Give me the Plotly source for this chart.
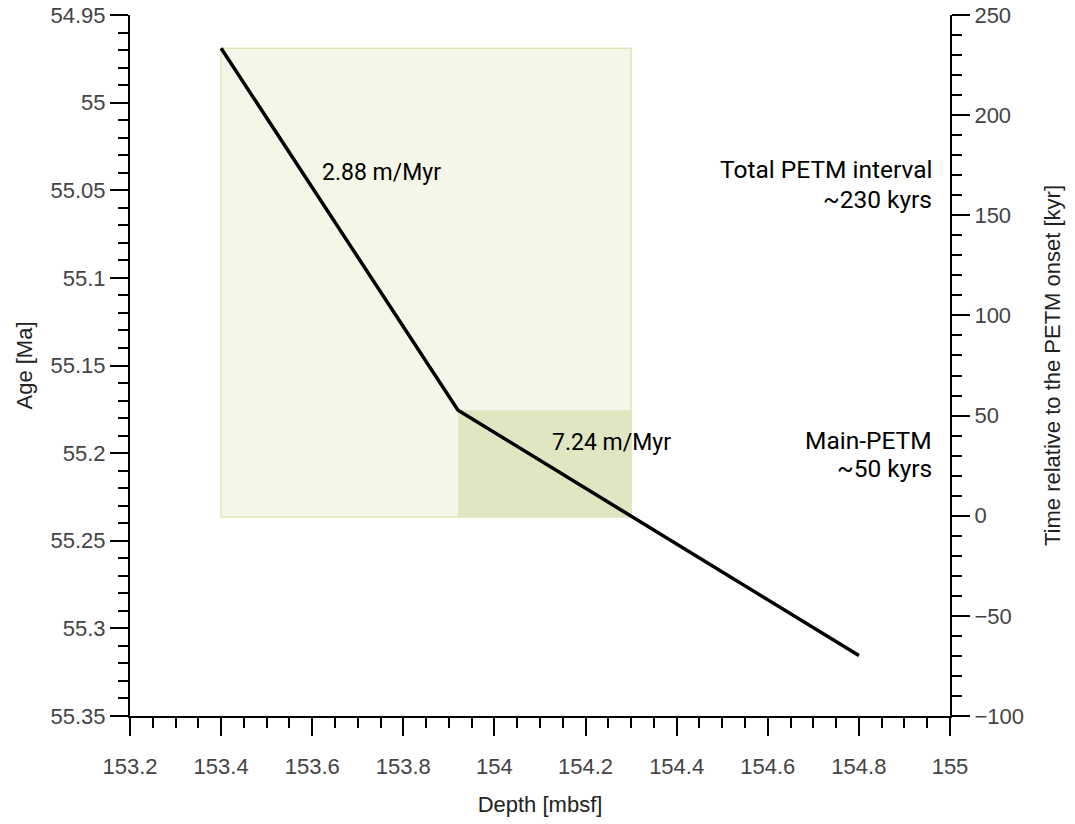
import plotly.graph_objects as go

# Data
depth = [153.4, 153.92, 154.8]            # m
age = [54.969, 55.1755, 55.3155]          # Ma
total_rect_depth = [153.4, 154.3]
total_rect_age = [54.969, 55.2365]
main_rect_depth = [153.92, 154.3]
main_rect_age = [55.1755, 55.2365]
rate_labels = ["2.88 m/Myr", "7.24 m/Myr"]
rate_label_depth = [153.753, 154.256]
rate_label_age = [55.040, 55.1937]
interval_labels = ["Total PETM interval", "~230 kyrs", "Main-PETM", "~50 kyrs"]
interval_label_kyr = [173.1, 158.1, 37.8, 23.8]
x_ticks = [153.2, 153.4, 153.6, 153.8, 154.0, 154.2, 154.4, 154.6, 154.8, 155.0]
x_ticktext = ["153.2", "153.4", "153.6", "153.8", "154", "154.2", "154.4", "154.6", "154.8", "155"]
y_ticks = [54.95, 55.0, 55.05, 55.1, 55.15, 55.2, 55.25, 55.3, 55.35]
y_ticktext = ["54.95", "55", "55.05", "55.1", "55.15", "55.2", "55.25", "55.3", "55.35"]
y2_ticks = [-100, -50, 0, 50, 100, 150, 200, 250]

AFONT = "Roboto"
TFONT = "Liberation Sans"
TICKC = "#444444"

fig = go.Figure()

fig.add_shape(type="rect", xref="x", yref="y",
              x0=total_rect_depth[0], x1=total_rect_depth[1],
              y0=total_rect_age[0], y1=total_rect_age[1],
              fillcolor="#f4f7e7", line=dict(color="#dde7b4", width=1.5), layer="below")
fig.add_shape(type="rect", xref="x", yref="y",
              x0=main_rect_depth[0], x1=main_rect_depth[1],
              y0=main_rect_age[0], y1=main_rect_age[1],
              fillcolor="#dfe6c1", line=dict(width=0), layer="below")

fig.add_trace(go.Scatter(x=depth, y=age, mode="lines",
                         line=dict(color="black", width=3.5), showlegend=False, hoverinfo="skip"))
# invisible trace to activate right axis
fig.add_trace(go.Scatter(x=[154.0], y=[0], yaxis="y2", mode="markers",
                         marker=dict(opacity=0), showlegend=False, hoverinfo="skip"))

for t, xx, yy in zip(rate_labels, rate_label_depth, rate_label_age):
    fig.add_annotation(x=xx, y=yy, xref="x", yref="y", text=t, showarrow=False,
                       font=dict(family=AFONT, size=23, color="black"))

for t, yy in zip(interval_labels, interval_label_kyr):
    fig.add_annotation(x=0.980, xref="paper", y=yy, yref="y2", xanchor="right", yanchor="middle",
                       text=t, showarrow=False, align="right",
                       font=dict(family=AFONT, size=24.5, color="black"))

axis_common = dict(ticks="outside", ticklen=18, tickwidth=2, tickcolor="black",
                   showline=True, linecolor="black", linewidth=2, showgrid=False, zeroline=False,
                   tickfont=dict(family=TFONT, size=22, color=TICKC), automargin=False,
                   ticklabeloverflow="allow")

fig.update_layout(
    width=1075, height=824,
    margin=dict(l=130, r=125, t=15, b=108),
    plot_bgcolor="white", paper_bgcolor="white",
    font=dict(family=TFONT, color=TICKC),
    xaxis=dict(range=[153.2, 155.0], tickvals=x_ticks, ticktext=x_ticktext,
               minor=dict(ticks="outside", ticklen=10, tickwidth=2, tickcolor="black", dtick=0.05, tick0=153.2),
               ticklabelstandoff=12,
               title=dict(text="Depth [mbsf]", font=dict(family=TFONT, size=22, color="#222222"), standoff=18),
               **axis_common),
    yaxis=dict(range=[55.35, 54.95], tickvals=y_ticks, ticktext=y_ticktext,
               minor=dict(ticks="outside", ticklen=10, tickwidth=2, tickcolor="black", dtick=0.01, tick0=54.95),
               title=dict(text="Age [Ma]", font=dict(family=TFONT, size=22, color="#222222"), standoff=12),
               **axis_common),
    yaxis2=dict(range=[-100, 250], overlaying="y", side="right", tickvals=y2_ticks,
                minor=dict(ticks="outside", ticklen=10, tickwidth=2, tickcolor="black", dtick=10, tick0=0),
                title=dict(text="Time relative to the PETM onset [kyr]", font=dict(family=TFONT, size=22, color="#222222"), standoff=22),
                **axis_common),
)

fig.write_html("out.html", config={"displayModeBar": False},
               post_script="document.body.style.margin='0';")
